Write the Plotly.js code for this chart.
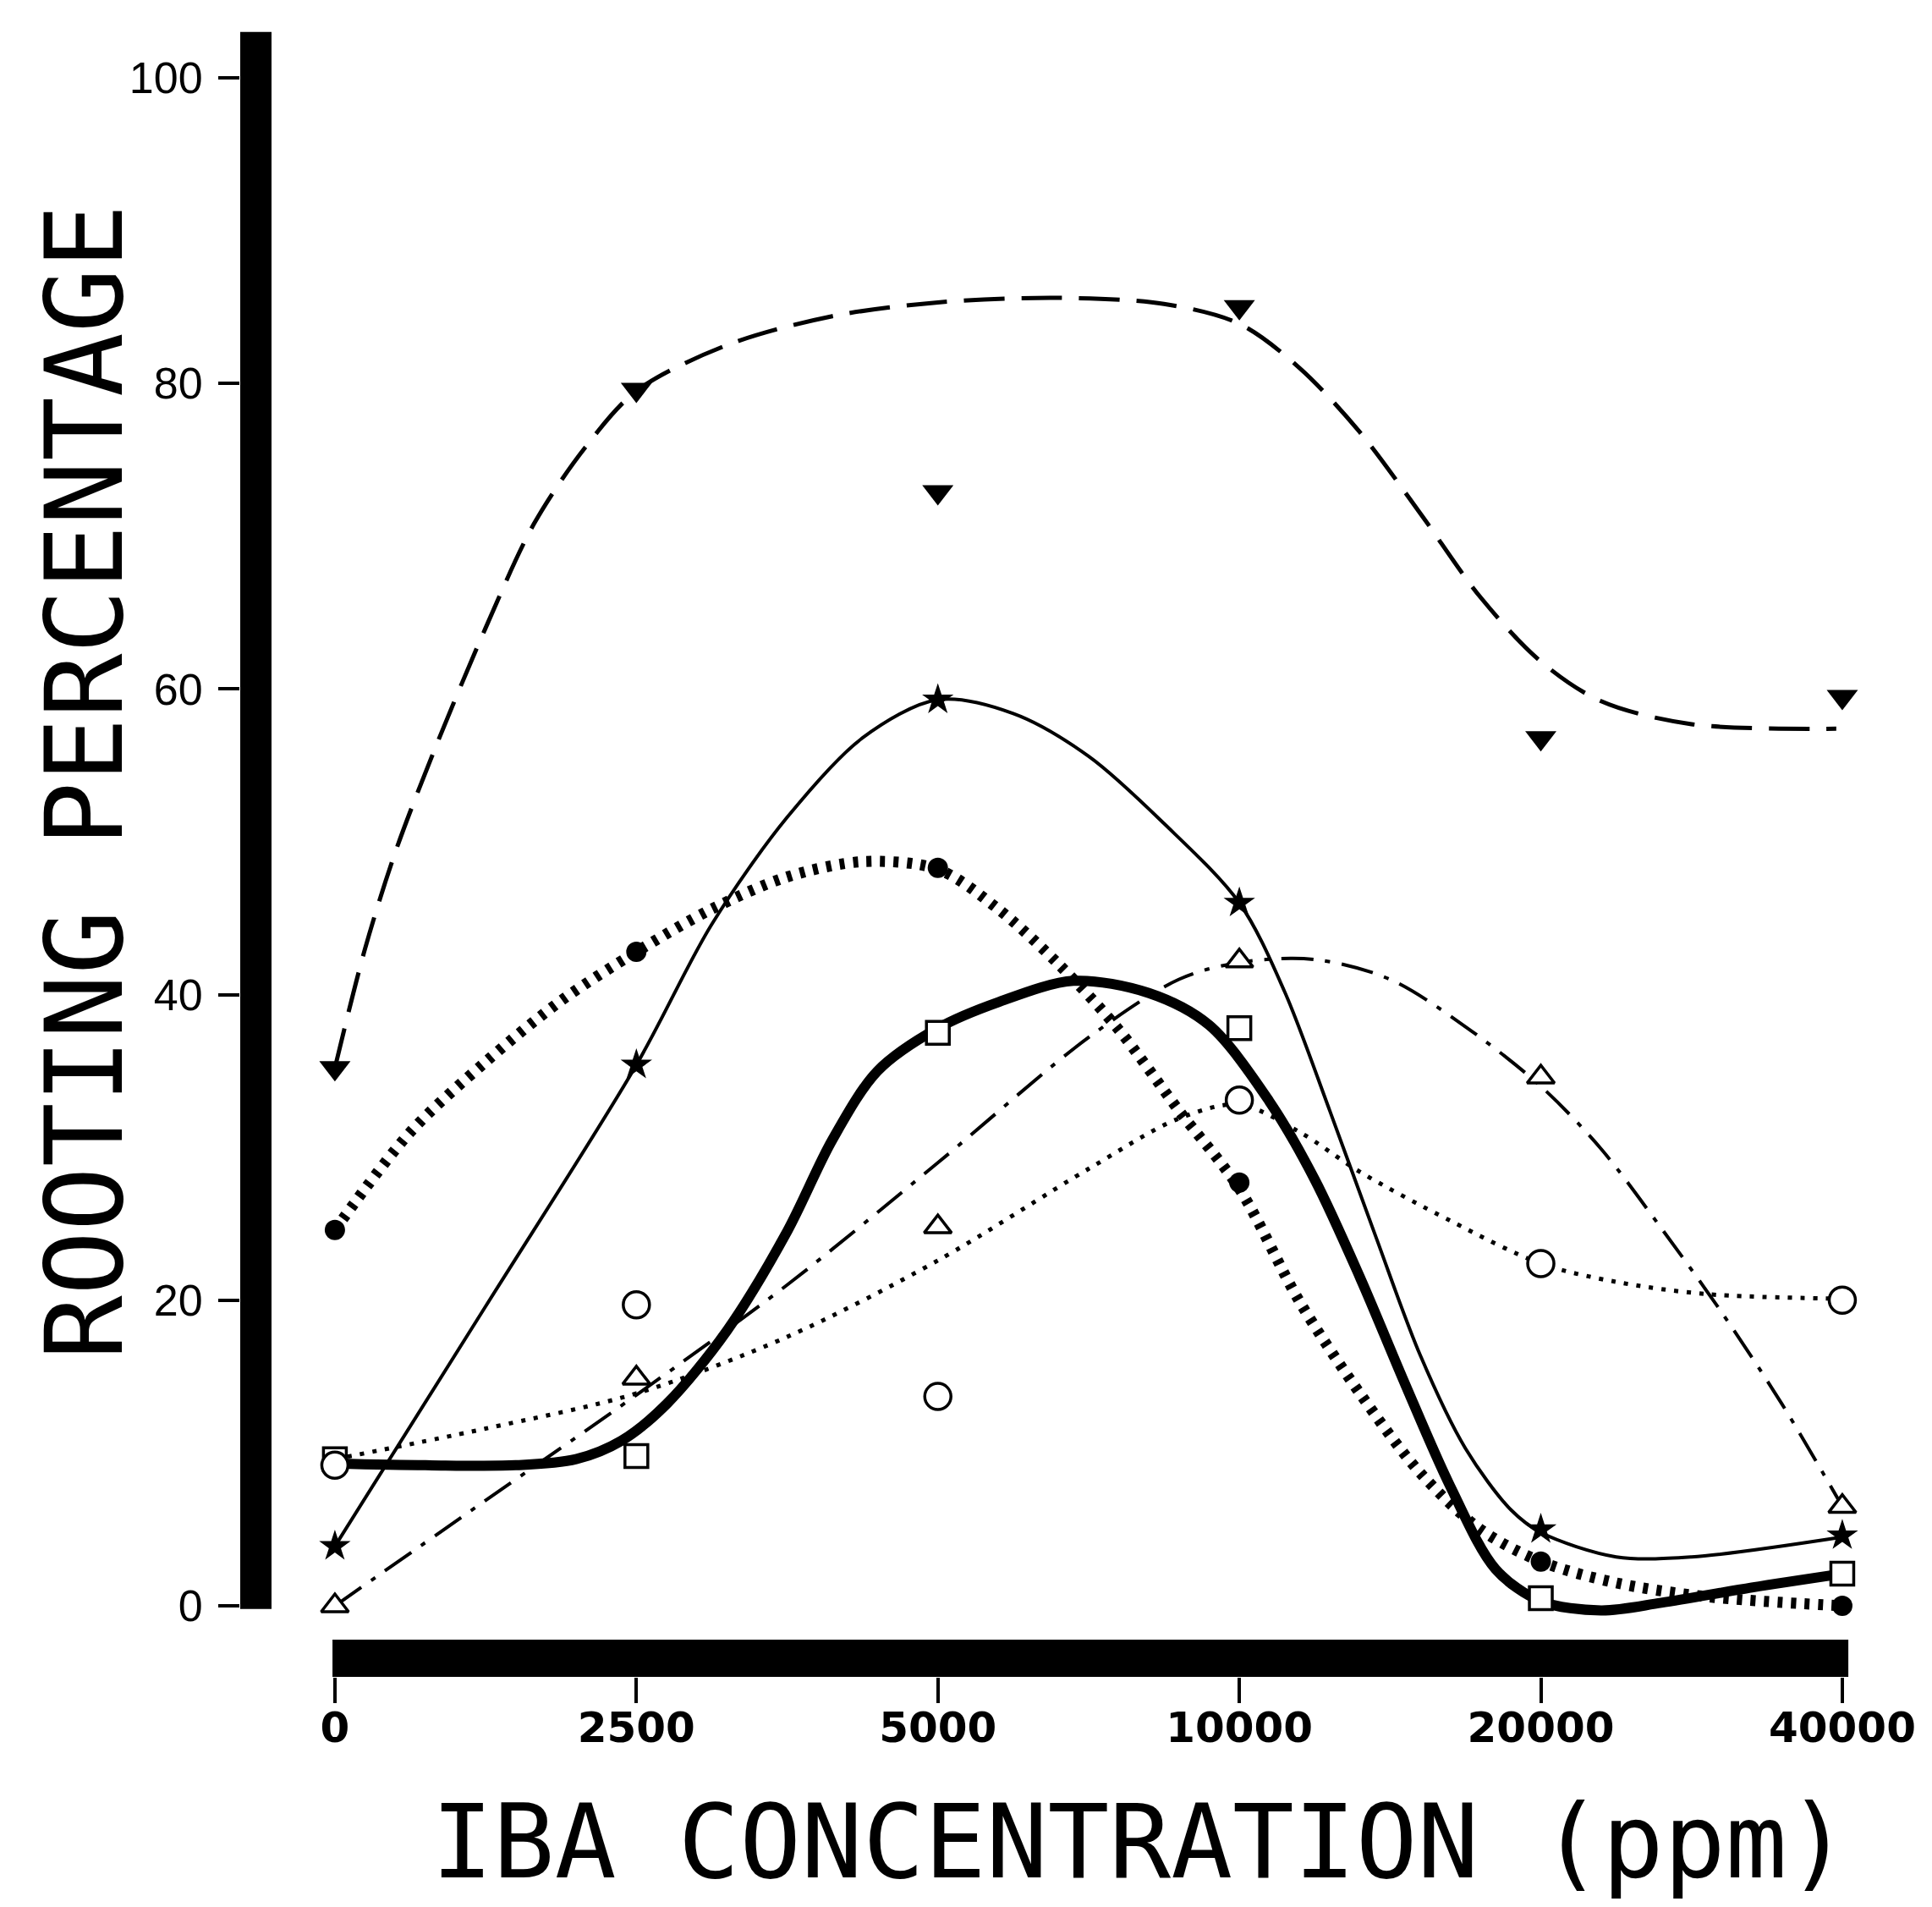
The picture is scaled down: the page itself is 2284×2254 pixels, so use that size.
<!DOCTYPE html>
<html>
<head>
<meta charset="utf-8">
<script src="https://cdn.plot.ly/plotly-3.0.1.min.js"></script>
<style>html,body{margin:0;padding:0;background:#fff;}</style>
</head>
<body>
<div id="chart" style="width:2284px;height:2254px;"></div>
<script>
// ---- categories (equally spaced IBA concentrations) ----
const concLabels = ['0', '2500', '5000', '10000', '20000', '40000'];
const concIndex = [0, 1, 2, 3, 4, 5];
const yTickVals = [0, 20, 40, 60, 80, 100];

// ---- observed rooting percentages (markers) ----
const triDownVals = [35.2, 79.6, 72.9, 85.0, 56.8, 59.5];
const starVals    = [3.9, 35.4, 59.3, 46.0, 5.0, 4.6];
const dotVals     = [24.6, 42.8, 48.3, 27.7, 2.9, 0.0];
const squareVals  = [9.6, 9.8, 37.5, 37.8, 0.5, 2.1];
const triUpVals   = [0.0, 14.9, 24.8, 42.2, 34.6, 6.5];
const circleVals  = [9.2, 19.7, 13.7, 33.1, 22.4, 20.0];

// ---- fitted curves (x in category-index units) ----
const triDownCurveX = [0, 0.1, 0.2, 0.33, 0.5, 0.66, 0.83, 1.0, 1.3, 1.65, 2.0, 2.4, 2.75, 3.0, 3.2, 3.4, 3.6, 3.8, 4.0, 4.2, 4.5, 4.98];
const triDownCurveY = [35.2, 43.0, 49.3, 56.0, 64.0, 70.8, 75.8, 79.5, 82.5, 84.4, 85.3, 85.6, 85.2, 83.9, 81.0, 76.8, 71.5, 66.0, 61.8, 59.2, 57.7, 57.4];

const starCurveX = [0, 0.5, 1.0, 1.25, 1.5, 1.75, 2.0, 2.25, 2.5, 2.75, 3.0, 3.15, 3.3, 3.45, 3.6, 3.75, 3.9, 4.0, 4.25, 4.5, 5.0];
const starCurveY = [3.9, 19.6, 35.4, 44.6, 51.6, 56.8, 59.3, 58.4, 55.6, 51.2, 46.0, 40.2, 32.4, 24.3, 16.4, 10.3, 6.3, 4.8, 3.2, 3.2, 4.5];

const dotCurveX = [0, 0.25, 0.5, 0.75, 1.0, 1.25, 1.5, 1.75, 2.0, 2.2, 2.4, 2.6, 2.8, 3.0, 3.2, 3.4, 3.6, 3.8, 4.0, 4.25, 4.55, 5.0];
const dotCurveY = [24.6, 31.0, 35.6, 39.6, 42.8, 45.6, 47.7, 48.7, 48.2, 45.6, 42.0, 37.7, 32.4, 27.3, 19.9, 13.9, 8.7, 5.0, 2.9, 1.5, 0.6, 0.0];

const squareCurveX = [0, 0.3, 0.6, 0.8, 0.95, 1.1, 1.3, 1.5, 1.65, 1.8, 2.0, 2.2, 2.45, 2.7, 2.9, 3.1, 3.25, 3.4, 3.55, 3.7, 3.85, 4.0, 4.2, 4.4, 4.7, 5.0];
const squareCurveY = [9.3, 9.2, 9.2, 9.6, 10.8, 13.2, 18.0, 24.5, 30.5, 35.0, 37.8, 39.5, 40.9, 40.1, 38.0, 33.0, 27.9, 21.5, 14.5, 7.8, 2.4, 0.3, -0.3, 0.2, 1.2, 2.1];

const triUpCurveX = [0, 0.5, 1.0, 1.5, 2.0, 2.5, 2.8, 3.0, 3.25, 3.5, 3.75, 4.0, 4.2, 4.4, 4.6, 4.8, 5.0];
const triUpCurveY = [0.0, 6.9, 13.8, 21.0, 29.0, 37.2, 41.0, 42.1, 42.3, 41.0, 37.9, 34.0, 29.9, 24.7, 19.2, 13.2, 6.5];

const circleCurveX = [0, 0.5, 1.0, 1.5, 2.0, 2.5, 2.8, 3.0, 3.2, 3.4, 3.7, 4.0, 4.25, 4.55, 5.0];
const circleCurveY = [9.6, 11.6, 13.9, 17.6, 22.6, 28.6, 31.9, 32.8, 31.0, 28.4, 25.2, 22.4, 21.2, 20.4, 20.1];

function curve(x, y, width, dash) {
  return {x: x, y: y, mode: 'lines', type: 'scatter', hoverinfo: 'skip',
    line: {color: '#000', width: width, dash: dash, shape: 'spline', smoothing: 0.9}};
}
function pts(y, symbol, size, fill, lw) {
  return {x: concIndex, y: y, mode: 'markers', type: 'scatter',
    marker: {symbol: symbol, size: size, color: fill, line: {color: '#000', width: lw}}};
}

const data = [
  curve(triDownCurveX, triDownCurveY, 5, '48px,20px'),
  curve(starCurveX, starCurveY, 4, 'solid'),
  curve(dotCurveX, dotCurveY, 13, '6px,10px'),
  curve(squareCurveX, squareCurveY, 12, 'solid'),
  curve(triUpCurveX, triUpCurveY, 4, '38px,14px,6px,14px'),
  curve(circleCurveX, circleCurveY, 5, '5px,10px'),
  pts(triDownVals, 'triangle-down', 32, '#000', 0),
  pts(starVals, 'star', 28, '#000', 0),
  pts(dotVals, 'circle', 24, '#000', 0),
  pts(squareVals, 'square', 27, '#fff', 3.5),
  pts(triUpVals, 'triangle-up', 28, '#fff', 3.5),
  pts(circleVals, 'circle', 31, '#fff', 3.5)
];

const layout = {
  width: 2284, height: 2254,
  margin: {l: 284, r: 54, t: 30, b: 272},
  paper_bgcolor: '#fff', plot_bgcolor: '#fff',
  showlegend: false,
  xaxis: {
    range: [-0.314, 5.146], tickvals: concIndex, ticktext: concLabels,
    ticks: 'outside', ticklen: 30, tickwidth: 4, tickcolor: '#000',
    ticklabelstandoff: -14,
    showgrid: false, zeroline: false, showline: false,
    tickfont: {family: 'DejaVu Sans', size: 50, color: '#000', weight: 'bold'}
  },
  yaxis: {
    range: [-4.65, 103.43], tickvals: yTickVals,
    ticks: 'outside', ticklen: 25, tickwidth: 4, tickcolor: '#000',
    ticklabelstandoff: 8,
    showgrid: false, zeroline: false, showline: false,
    tickfont: {family: 'Liberation Sans', size: 52, color: '#000'}
  },
  shapes: [
    {type: 'rect', xref: 'paper', yref: 'y', x0: 0, x1: 0.019, y0: -0.2, y1: 103.0,
     fillcolor: '#000', line: {width: 0}, layer: 'below'},
    {type: 'rect', xref: 'x', yref: 'paper', x0: -0.008, x1: 5.02, y0: 0, y1: 0.0225,
     fillcolor: '#000', line: {width: 0}, layer: 'below'}
  ],
  annotations: [
    {text: 'IBA CONCENTRATION (ppm)', xref: 'paper', yref: 'paper', x: 0.547, y: -0.1,
     xanchor: 'center', yanchor: 'middle', showarrow: false,
     font: {family: 'DejaVu Sans Mono', size: 121, color: '#000'}},
    {text: 'ROOTING PERCENTAGE', xref: 'paper', yref: 'paper', x: -0.0946, y: 0.542,
     xanchor: 'center', yanchor: 'middle', showarrow: false, textangle: -90,
     font: {family: 'DejaVu Sans Mono', size: 126, color: '#000'}}
  ]
};

Plotly.newPlot('chart', data, layout, {staticPlot: true, displayModeBar: false});
</script>
</body>
</html>
